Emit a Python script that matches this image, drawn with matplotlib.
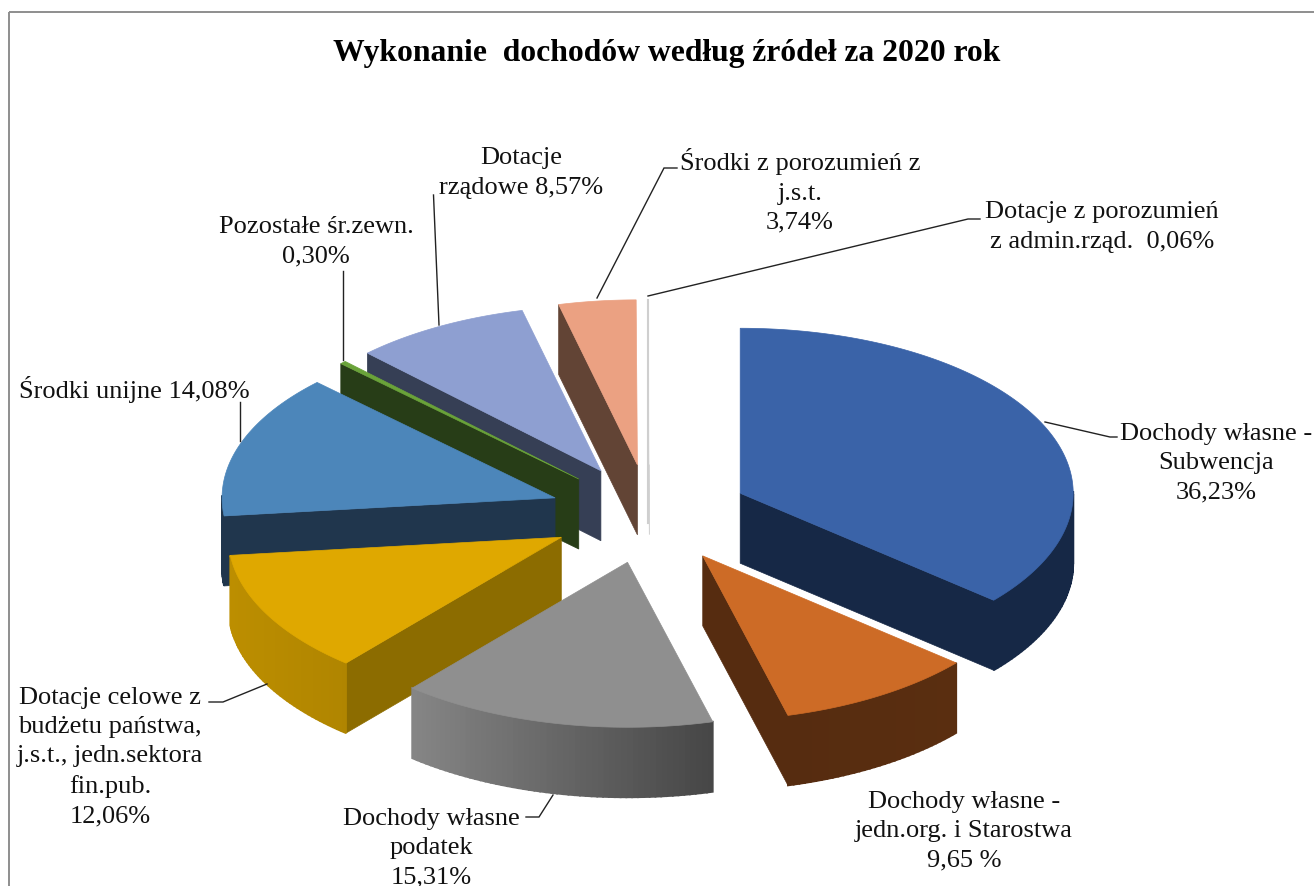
import numpy as np
import matplotlib
matplotlib.use("Agg")
import matplotlib.pyplot as plt
from matplotlib.patches import Polygon, Rectangle
from matplotlib.colors import to_rgb

# ---- data (clockwise from 12 o'clock) ----
slices = ["Subwencja", "Starostwa", "Podatek", "Celowe", "Unijne",
          "Pozostale", "Rzadowe", "Porozumienia jst", "Porozumienia admin"]
values = [36.23, 9.65, 15.31, 12.06, 14.08, 0.30, 8.57, 3.74, 0.06]

top_colors = ["#3A63A8", "#CD6B26", "#8F8F8F", "#DFA800", "#4C86BA",
              "#6AA339", "#8E9FD1", "#EBA182", "#FFFFFF"]
radial_colors = ["#162846", "#562C10", "#474747", "#8C6C00", "#20364D",
                 "#273D17", "#363F55", "#624435", "#D4D4D4"]
arc_left_colors = ["#162846", "#562C10", "#858585", "#BC8E00", "#20364D",
                   "#273D17", "#363F55", "#624435", "#D4D4D4"]
arc_right_colors = ["#162846", "#5A2E10", "#464646", "#B08500", "#20364D",
                    "#273D17", "#363F55", "#624435", "#D4D4D4"]

title = "Wykonanie  dochodów według źródeł za 2020 rok"
labels = [
    "Dochody własne -\nSubwencja\n36,23%",
    "Dochody własne -\njedn.org. i Starostwa\n9,65 %",
    "Dochody własne\npodatek\n15,31%",
    "Dotacje celowe z\nbudżetu państwa,\nj.s.t., jedn.sektora\nfin.pub.\n12,06%",
    "Środki unijne 14,08%",
    "Pozostałe śr.zewn.\n0,30%",
    "Dotacje\nrządowe 8,57%",
    "Środki z porozumień z\nj.s.t.\n3,74%",
    "Dotacje z porozumień\nz admin.rząd.  0,06%",
]
label_pos = [(1216, 463), (964, 831), (431, 848), (110, 757), (134, 389),
             (316, 242), (521, 173), (800, 191), (1102, 227)]
leaders = [
    [(1045, 422), (1110, 437), (1117, 437)],
    None,
    [(553, 795), (539, 817), (526, 817)],
    [(267, 684), (223, 702), (209, 702)],
    [(240, 402), (240, 441)],
    [(343, 271), (343, 360)],
    [(433.5, 195), (439, 325)],
    [(677, 168), (664, 168), (597, 298)],
    [(980, 219), (968, 219), (648, 296)],
]

# ---- geometry of the projected pie ----
CX, CY = 649.5, 514
RX, RY = 333, 165
EXPLODE = 0.30
DEPTH = 70

fig = plt.figure(figsize=(13.14, 8.86), dpi=100, facecolor="white")
ax = fig.add_axes([0, 0, 1, 1])
ax.set_xlim(0, 1314)
ax.set_ylim(886, 0)
ax.axis("off")

ax.add_patch(Rectangle((9, 12), 1400, 1000, fill=False, ec="#8E8E8E", lw=1.4, zorder=0))

frac = np.array(values) / sum(values) * 2 * np.pi
ends = np.cumsum(frac)
starts = ends - frac


def pt(a, t, z=0):
    return (a[0] + RX * np.sin(t), a[1] - RY * np.cos(t) + z)


def poly(verts, color, zo, lw=0.5):
    ax.add_patch(Polygon(verts, closed=True, fc=color, ec=color, lw=lw, zorder=zo))


mids = (starts + ends) / 2
order = np.argsort(-np.cos(mids))
for rank, i in enumerate(order):
    s, e, m = starts[i], ends[i], mids[i]
    apex = (CX + EXPLODE * RX * np.sin(m), CY - EXPLODE * RY * np.cos(m))
    zo = 2 + rank
    # radial walls
    if np.sin(s) < 0:
        p = pt(apex, s)
        poly([apex, p, (p[0], p[1] + DEPTH), (apex[0], apex[1] + DEPTH)], radial_colors[i], zo)
    if np.sin(e) > 0:
        p = pt(apex, e)
        poly([apex, p, (p[0], p[1] + DEPTH), (apex[0], apex[1] + DEPTH)], radial_colors[i], zo)
    # outer wall, shaded left to right in bands
    ts = np.linspace(s, e, max(3, int(np.degrees(e - s)) + 1))
    ts = ts[np.cos(ts) <= 0.02]
    if len(ts) > 1:
        xs = np.array([pt(apex, t)[0] for t in ts])
        lo, hi = xs.min(), xs.max()
        cl, cr = np.array(to_rgb(arc_left_colors[i])), np.array(to_rgb(arc_right_colors[i]))
        for a, b in zip(ts[:-1], ts[1:]):
            pa, pb = pt(apex, a), pt(apex, b)
            f = ((pa[0] + pb[0]) / 2 - lo) / max(hi - lo, 1)
            c = tuple(cl + (cr - cl) * f)
            poly([pa, pb, (pb[0], pb[1] + DEPTH), (pa[0], pa[1] + DEPTH)], c, zo, lw=1.3)
    # top face
    tt = np.linspace(s, e, max(3, int(np.degrees(e - s)) * 2))
    poly([apex] + [pt(apex, t) for t in tt], top_colors[i], zo)
    if i == len(values) - 1:
        p = pt(apex, s)
        ax.plot([p[0], p[0]], [p[1], apex[1] + DEPTH - 12], color="#CFCFCF", lw=1.5, zorder=zo + 12)

# ---- texts ----
FONT = "Liberation Serif"
ax.text(667, 53, title, family=FONT, weight="bold", fontsize=22.8, ha="center", va="center", color="black", zorder=20)
for lab, (x, y) in zip(labels, label_pos):
    ax.text(x, y, lab, family=FONT, fontsize=19, ha="center", va="center",
            multialignment="center", linespacing=1.43, color="#111111", zorder=20)
for seg in leaders:
    if seg:
        ax.plot(*zip(*seg), color="#222222", lw=1.0, zorder=19, solid_joinstyle="miter")

fig.savefig("out.png", dpi=100, facecolor="white")
